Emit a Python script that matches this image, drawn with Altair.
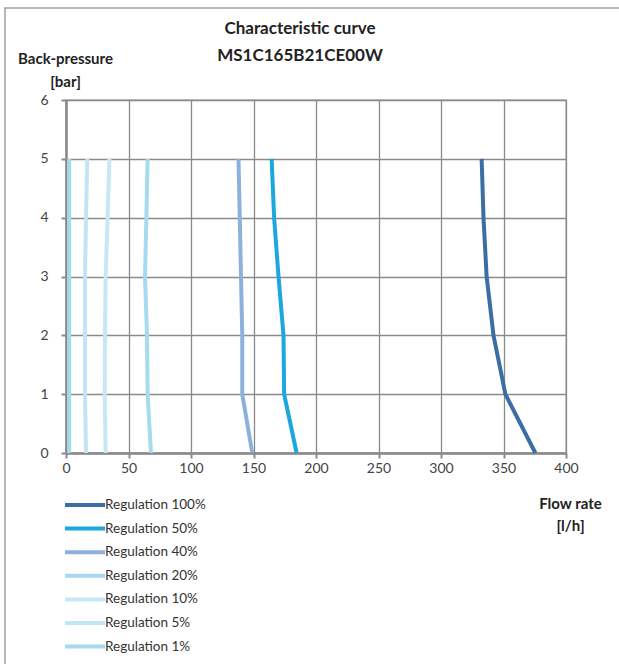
import altair as alt
import pandas as pd

pressure = [0, 1, 2, 3, 4, 5]
series_names = ["Regulation 100%", "Regulation 50%", "Regulation 40%", "Regulation 20%",
                "Regulation 10%", "Regulation 5%", "Regulation 1%"]
flow_100 = [375.5, 351.5, 342, 336.5, 334, 332.5]
flow_50 = [184.5, 174.5, 174, 170, 166.5, 164.5]
flow_40 = [149, 141, 141, 140, 139, 138]
flow_20 = [68, 65.3, 64.8, 63.2, 64.3, 65.3]
flow_10 = [31.7, 31, 31.2, 31.7, 33.3, 34.7]
flow_5 = [16, 15.2, 15.2, 15.2, 16, 17]
flow_1 = [2.5, 2.5, 2.5, 2.5, 2.5, 2.5]
series_colors = ["#3c6ea6", "#1ca8df", "#8eb0dc", "#a6daf0", "#c6e7f4", "#c3e5f3", "#a6d9ee"]

flows = [flow_100, flow_50, flow_40, flow_20, flow_10, flow_5, flow_1]
rows = []
for name, fl in zip(series_names, flows):
    for p, f in zip(pressure, fl):
        rows.append({"series": name, "flow": f, "pressure": p})
df = pd.DataFrame(rows)

grid_col = "#8a8a8a"
font = "Lato"

lines = alt.Chart(df).mark_line(strokeWidth=4, clip=False).encode(
    x=alt.X("flow:Q", scale=alt.Scale(domain=[0, 400], nice=False),
            axis=alt.Axis(values=list(range(0, 401, 50)), title=["Flow rate", "[l/h]"],
                          titleX=504, titleY=55, titleAlign="center", titleAngle=0,
                          titleBaseline="alphabetic", titleLineHeight=22,
                          titleFontSize=15, titleFontWeight="bold", titleFont=font,
                          titleColor="#222222",
                          labelFontSize=14, labelFont=font, labelColor="#444444",
                          labelPadding=3, tickSize=5, labelFlush=False)),
    y=alt.Y("pressure:Q", scale=alt.Scale(domain=[0, 6], nice=False),
            axis=alt.Axis(values=list(range(0, 7)), title=["Back-pressure", "[bar]"],
                          titleX=-1, titleY=-37, titleAlign="center", titleAngle=0,
                          titleBaseline="alphabetic", titleLineHeight=23,
                          titleFontSize=15, titleFontWeight="bold", titleFont=font,
                          titleColor="#222222",
                          labelFontSize=14, labelFont=font, labelColor="#444444",
                          labelPadding=13, tickSize=5)),
    color=alt.Color("series:N", scale=alt.Scale(domain=series_names, range=series_colors),
                    legend=alt.Legend(title=None, orient="none", legendX=12, legendY=398,
                                      symbolType="M-4,0H4", symbolSize=100, symbolStrokeWidth=4,
                                      labelFontSize=13.5, labelFont=font, labelColor="#333333",
                                      labelOffset=13, rowPadding=7.6)),
    order=alt.Order("pressure:Q"),
)

title_df = pd.DataFrame({"t": ["x"]})
title = alt.Chart(title_df).mark_text(
    text=["Characteristic curve", "MS1C165B21CE00W"], font=font, fontSize=17,
    fontWeight="bold", lineHeight=27, align="center", baseline="alphabetic", color="#222222"
).encode(x=alt.value(234), y=alt.value(-66))

border = alt.Chart(title_df).mark_rect(fill=None, stroke="#a0a0a0", strokeWidth=1.5, clip=False).encode(
    x=alt.value(-61), y=alt.value(-92), x2=alt.value(620), y2=alt.value(700))

chart = alt.layer(border, lines, title).properties(
    width=500, height=353,
    autosize=alt.AutoSizeParams(type="none"),
    padding={"left": 66, "top": 100, "right": 53, "bottom": 211},
).configure_axis(
    gridColor=grid_col, gridWidth=1.3, gridOpacity=1,
    domainColor=grid_col, domainWidth=2.5, tickColor=grid_col, tickWidth=2,
).configure_view(stroke=grid_col, strokeWidth=1.3)

chart.save("out.html", embed_options={"renderer": "svg", "actions": False})
